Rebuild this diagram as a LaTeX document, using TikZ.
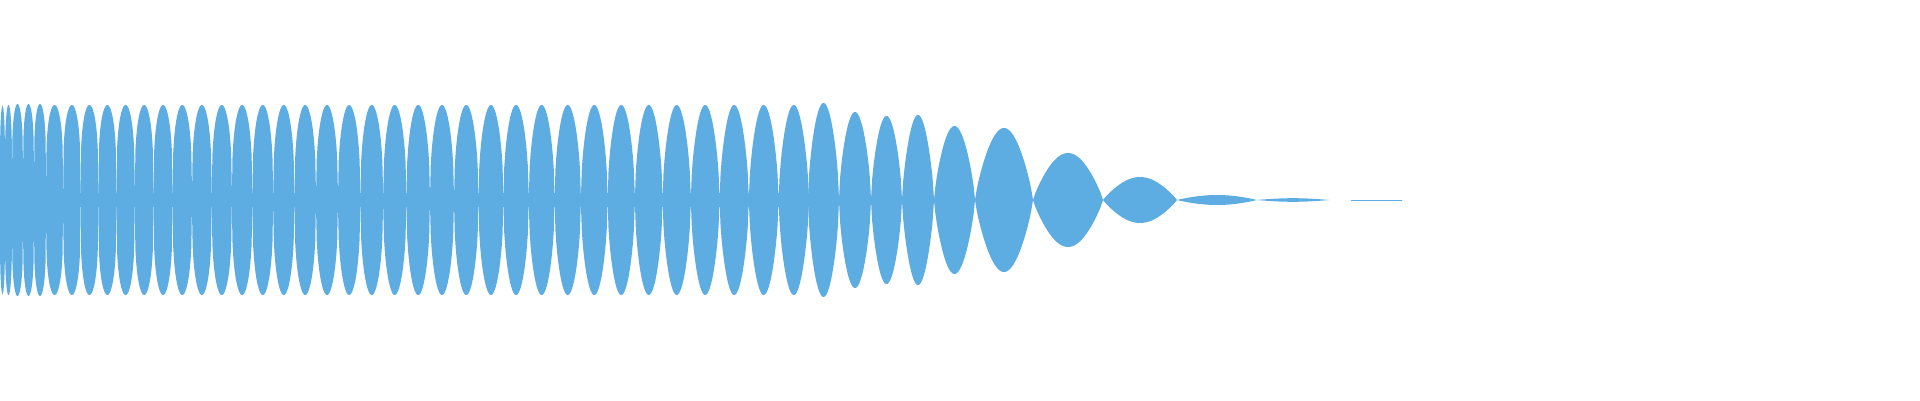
\documentclass[tikz,border=0pt]{standalone}
\definecolor{wave}{RGB}{93,173,226}
\begin{document}
\begin{tikzpicture}[x=1pt,y=1pt,wavefill/.style={fill=wave,draw=none}]
\useasboundingbox (0,0) rectangle (1920,400);
\newcommand{\wlobe}[4]{%
  \fill[wavefill] (#1,200)
    plot[domain=0:1,samples=31,variable=\t] ({#1+(#2-#1)*\t},{200+#3*pow(abs(sin(180*\t)),#4)})
    -- plot[domain=1:0,samples=31,variable=\t] ({#1+(#2-#1)*\t},{200-#3*pow(abs(sin(180*\t)),#4)})
    -- cycle;}
% centre band
\fill[wavefill] (0,193) rectangle (810,207);
% very first spikes
\wlobe{0}{5}{94}{0.2}
\wlobe{5}{12}{95}{0.2}
\wlobe{12}{23}{96}{0.2}
\wlobe{23}{34}{96}{0.2}
\wlobe{34}{46}{96}{0.2}
% chirp part
\xdef\xa{46}
\foreach \k in {1,...,33}{
  \pgfmathsetmacro\xb{16.3+1.018*\xa}
  \pgfmathsetmacro\pp{0.22+0.4*\xa/800}
  \wlobe{\xa}{\xb}{95}{\pp}
  \xdef\xa{\xb}
}
\wlobe{808}{839}{97}{0.6}
\wlobe{839}{871}{88}{0.62}
\wlobe{871}{902}{84}{0.65}
\wlobe{902}{934}{85}{0.7}
\wlobe{934}{975}{74}{0.75}
\wlobe{975}{1033}{72}{0.8}
\wlobe{1033}{1103}{47}{0.85}
\wlobe{1103}{1177}{23}{0.9}
\wlobe{1177}{1257}{5}{0.9}
\wlobe{1257}{1329}{1.8}{0.9}
\draw[wave,line width=1pt] (1351,200) -- (1402,200);
\end{tikzpicture}
\end{document}
